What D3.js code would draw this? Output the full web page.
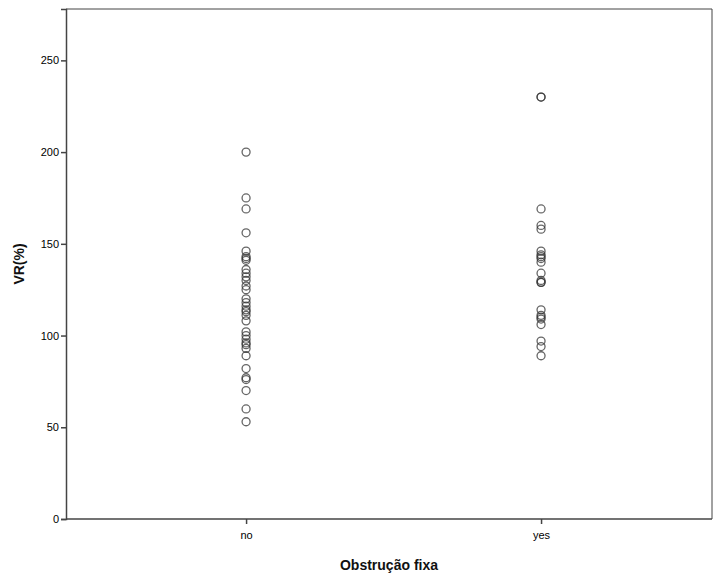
<!DOCTYPE html>
<html lang="en">
<head>
    <meta charset="UTF-8"/>
    <title>VR(%) by Obstrução fixa</title>
    <script src="https://d3js.org/d3.v7.min.js"></script>
    <style>
        body { margin: 0; background: #fff; }
        text { font-family: "Liberation Sans", Arial, sans-serif; }
    </style>
</head>
<body>
    <script>
        var w = 713;
        var h = 577;

        // data
        var categories = ["no", "yes"];
        var noValues = [200, 175, 169, 156, 146, 143, 142, 141, 136, 134, 132, 130, 127, 125,
                        120, 118, 116, 114, 113, 111, 108, 102, 100, 98, 96, 95, 93, 89,
                        82, 77, 76, 70, 60, 53];
        var yesValues = [230, 230, 169, 160, 158, 146, 144, 143, 142, 140, 134, 130, 129, 129,
                         114, 111, 110, 109, 106, 97, 94, 89];
        var yTicks = [0, 50, 100, 150, 200, 250];

        var points = [];
        noValues.forEach(v => points.push({cat: "no", v: v}));
        yesValues.forEach(v => points.push({cat: "yes", v: v}));

        // plot frame (note: "top" is reserved on window, so use pl/pr/pt/pb)
        var pl = 66, pr = 712, pt = 9, pb = 519;

        var svg = d3.select("body")
                    .append("svg")
                    .attr("width", w)
                    .attr("height", h);

        const xScale = d3.scalePoint()
            .domain(categories)
            .range([pl, pr])
            .padding(0.595)
            .align(0.513);

        const yScale = d3.scaleLinear()
            .domain([0, 278])
            .range([pb, pt]);

        // frame top / right
        svg.append("path")
            .attr("d", `M${pl},${pt}H${pr}V${pb}`)
            .attr("fill", "none")
            .attr("stroke", "#444")
            .attr("stroke-width", 1);

        // y axis
        const yAxis = svg.append("g")
            .attr("transform", `translate(${pl},0)`)
            .call(d3.axisLeft(yScale).tickValues(yTicks).tickSize(5).tickPadding(2));
        yAxis.select(".domain").attr("stroke", "#444").attr("stroke-width", 1.5);
        yAxis.selectAll(".tick line").attr("stroke", "#444").attr("stroke-width", 1.5);
        yAxis.selectAll("text").attr("font-size", "11px").attr("fill", "#000")
            .attr("font-family", "'Liberation Sans', Arial, sans-serif");

        // x axis
        const xAxis = svg.append("g")
            .attr("transform", `translate(0,${pb})`)
            .call(d3.axisBottom(xScale).tickSize(5).tickPadding(7));
        xAxis.select(".domain").attr("d", `M${pl},0H${pr}`)
            .attr("stroke", "#444").attr("stroke-width", 1.5);
        xAxis.selectAll(".tick line").attr("stroke", "#444").attr("stroke-width", 1.5);
        xAxis.selectAll("text").attr("font-size", "11px").attr("fill", "#000")
            .attr("font-family", "'Liberation Sans', Arial, sans-serif");

        // points
        svg.append("g")
            .selectAll("circle")
            .data(points)
            .enter()
            .append("circle")
            .attr("cx", d => xScale(d.cat))
            .attr("cy", d => yScale(d.v))
            .attr("r", 4)
            .attr("fill", "none")
            .attr("stroke", "#333")
            .attr("stroke-opacity", 0.75)
            .attr("stroke-width", 1.3);

        // axis titles
        svg.append("text")
            .attr("x", (pl + pr) / 2)
            .attr("y", 570)
            .attr("text-anchor", "middle")
            .attr("font-size", "14px")
            .attr("font-weight", "bold")
            .attr("fill", "#111")
            .text("Obstrução fixa");

        svg.append("text")
            .attr("transform", `translate(24,${(pt + pb) / 2}) rotate(-90)`)
            .attr("text-anchor", "middle")
            .attr("font-size", "14px")
            .attr("font-weight", "bold")
            .attr("fill", "#111")
            .text("VR(%)");
    </script>
</body>
</html>
